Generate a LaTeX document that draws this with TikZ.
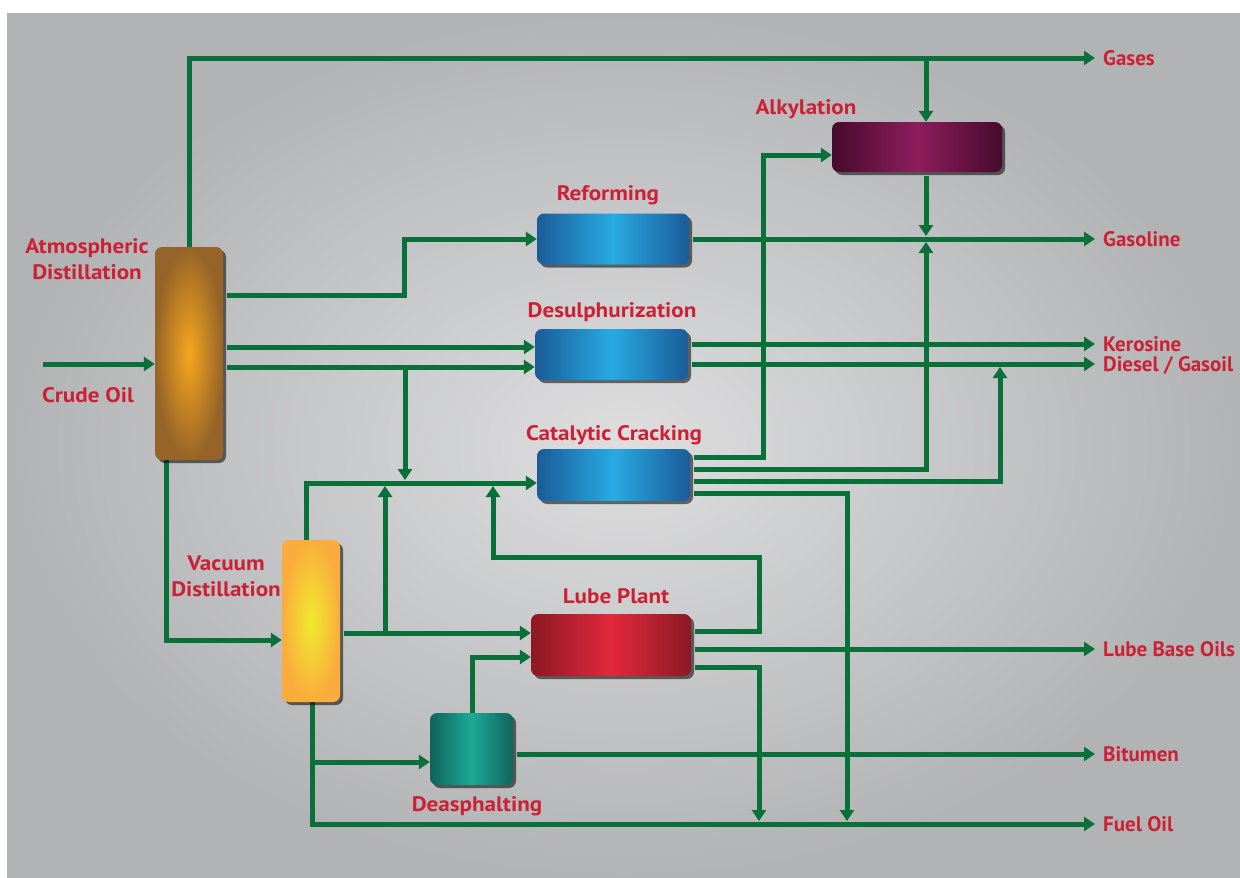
\documentclass[tikz,border=0pt]{standalone}
\usepackage{fontspec}
\setmainfont{PT Sans}[FakeStretch=1.1]
\newfontfamily\outfont{PT Sans}
\usetikzlibrary{arrows.meta,shadows,calc}
\definecolor{pipe}{RGB}{10,112,58}
\definecolor{lbl}{RGB}{205,32,52}
\definecolor{bgin}{RGB}{222,222,223}
\definecolor{bgout}{RGB}{178,179,181}
\definecolor{adO}{RGB}{150,100,40}
\definecolor{adI}{RGB}{246,166,30}
\definecolor{vdO}{RGB}{250,172,60}
\definecolor{vdI}{RGB}{240,234,48}
\definecolor{bluO}{RGB}{26,92,152}
\definecolor{bluI}{RGB}{40,170,226}
\definecolor{alkO}{RGB}{72,10,46}
\definecolor{alkI}{RGB}{140,30,92}
\definecolor{lubO}{RGB}{140,25,36}
\definecolor{lubI}{RGB}{226,40,60}
\definecolor{deaO}{RGB}{14,100,90}
\definecolor{deaI}{RGB}{30,170,150}
\pgfdeclarelayer{back}
\pgfdeclarelayer{lines}
\pgfsetlayers{back,lines,main}
\begin{document}
\begin{tikzpicture}[x=1pt,y=-1pt,
  flow/.style={draw=pipe,line width=5pt},
  arr/.style={flow,-{Rectangle[length=9pt,width=5pt,sep=2pt]Triangle[length=11pt,width=14pt]}},
  unit/.style={rounded corners=7pt,inner sep=0pt,
    drop shadow={shadow xshift=3pt,shadow yshift=-3pt,opacity=.55,fill=black}},
  hbox/.style 2 args={unit,left color=#1,right color=#1,middle color=#2},
  vcol/.style 2 args={unit,inner color=#2,outer color=#1},
  lab/.style={text=lbl,font=\bfseries\fontsize{21}{26}\selectfont,inner sep=0pt},
  onelab/.style={lab,text height=14pt,text depth=0pt},
  outlab/.style={onelab,anchor=west,font=\outfont\bfseries\fontsize{21}{26}\selectfont}]

\begin{pgfonlayer}{back}
\fill[white] (0,0) rectangle (1240,878);
\shade[inner color=bgin,outer color=bgout] (7,13) rectangle (1240,878);
\end{pgfonlayer}
\useasboundingbox (0,0) rectangle (1240,878);

% units
\node[vcol={adO}{adI},minimum width=68pt,minimum height=213pt] (AD) at (189,353.5) {};
\node[vcol={vdO}{vdI},minimum width=58pt,minimum height=162pt] (VD) at (311,621) {};
\node[hbox={bluO}{bluI},minimum width=152pt,minimum height=51pt] (REF) at (613,239) {};
\node[hbox={bluO}{bluI},minimum width=153pt,minimum height=51pt] (DES) at (611.5,354.5) {};
\node[hbox={bluO}{bluI},minimum width=153pt,minimum height=52pt] (CAT) at (613.5,475) {};
\node[hbox={alkO}{alkI},minimum width=170pt,minimum height=50pt] (ALK) at (917,147) {};
\node[hbox={lubO}{lubI},minimum width=160pt,minimum height=62pt] (LUBE) at (611,645) {};
\node[hbox={deaO}{deaI},minimum width=83pt,minimum height=72pt] (DEA) at (471.5,749) {};

% labels
\node[lab,align=center] (tAD) at (87,259) {Atmospheric\\Distillation};
\node[onelab] (tCrude) at (88,395) {Crude Oil};
\node[lab,align=center] (tVD) at (226,576) {Vacuum\\Distillation};
\node[onelab] (tREF) at (608,193) {Reforming};
\node[onelab] (tALK) at (806,107) {Alkylation};
\node[onelab] (tDES) at (612,310) {Desulphurization};
\node[onelab] (tCAT) at (614,433) {Catalytic Cracking};
\node[onelab] (tLUBE) at (616,596) {Lube Plant};
\node[onelab] (tDEA) at (477,804) {Deasphalting};

\node[outlab] (tGas) at (1103,58) {Gases};
\node[outlab] (tGasoline) at (1103,239) {Gasoline};
\node[outlab] (tKer) at (1103,344) {Kerosine};
\node[outlab] (tDie) at (1103,364) {Diesel / Gasoil};
\node[outlab] (tLBO) at (1103,649) {Lube Base Oils};
\node[outlab] (tBit) at (1103,754) {Bitumen};
\node[outlab] (tFuel) at (1103,824) {Fuel Oil};

% junctions
\coordinate (crude) at (43,364);
\coordinate (jG) at (926,58);
\coordinate (jGas) at (926,239);
\coordinate (j1) at (405,367);
\coordinate (jFeed1) at (405,483);
\coordinate (jDie) at (1000,364);
\coordinate (jF1) at (847,824);
\coordinate (j2) at (385,633);
\coordinate (jFeed2) at (385,483);
\coordinate (jFeed3) at (493,483);
\coordinate (jF2) at (759,824);
\coordinate (j3) at (312,762);

\begin{pgfonlayer}{lines}
\draw[arr] (crude) -- (AD.west |- crude);
\draw[arr,shorten >=8pt] (AD.north) |- (tGas.west);
\draw[arr] (jG) -- (jG |- ALK.north);
\draw[arr,shorten <=4pt,shorten >=3pt] (jG |- ALK.south) -- (jGas);
\draw[arr,shorten <=4pt] (AD.east |- 0,295) -- (404,295) |- (REF.west);
\draw[arr,shorten <=4pt,shorten >=8pt] (REF.east) -- (tGasoline.west);
\draw[arr,shorten <=4pt] (AD.east |- 0,347) -- (DES.west |- 0,347);
\draw[arr,shorten <=4pt] (AD.east |- 0,367) -- (DES.west |- 0,367);
\draw[arr,shorten >=3pt] (j1) -- (jFeed1);
\draw[arr,shorten <=4pt,shorten >=8pt] (DES.east |- tKer.west) -- (tKer.west);
\draw[arr,shorten <=4pt,shorten >=8pt] (DES.east |- tDie.west) -- (tDie.west);
\draw[arr,shorten <=4pt] (CAT.east |- 0,457) -| (763,155) -- (ALK.west |- 0,155);
\draw[arr,shorten <=4pt,shorten >=3pt] (CAT.east |- 0,469) -| (jGas);
\draw[arr,shorten <=4pt,shorten >=3pt] (CAT.east |- 0,481) -| (jDie);
\draw[arr,shorten <=4pt,shorten >=3pt] (CAT.east |- 0,493) -| (jF1);
\draw[arr] (VD.north -| 306,0) |- (CAT.west |- jFeed1);
\draw[arr,shorten <=4pt] (VD.east |- j2) -- (LUBE.west |- j2);
\draw[arr,shorten >=3pt] (j2) -- (jFeed2);
\draw[arr,shorten <=4pt,shorten >=3pt] (LUBE.east |- 0,631) -| (759,557) -| (jFeed3);
\draw[arr,shorten <=4pt,shorten >=8pt] (LUBE.east |- tLBO.west) -- (tLBO.west);
\draw[arr,shorten <=4pt,shorten >=3pt] (LUBE.east |- 0,667) -| (jF2);
\draw[arr] (AD.south -| 166,0) |- (VD.west |- 0,640);
\draw[arr,shorten >=8pt] (VD.south -| 312,0) |- (tFuel.west);
\draw[arr] (j3) -- (DEA.west |- j3);
\draw[arr] (DEA.north -| 472,0) |- (LUBE.west |- 0,657);
\draw[arr,shorten <=4pt,shorten >=8pt] (DEA.east |- tBit.west) -- (tBit.west);
\end{pgfonlayer}
\end{tikzpicture}
\end{document}
